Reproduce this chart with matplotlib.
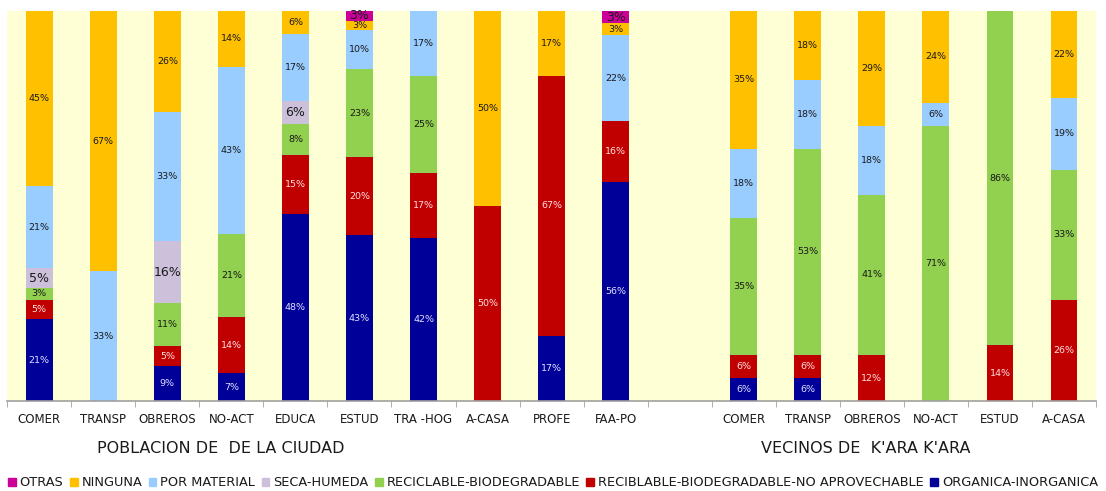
import matplotlib.pyplot as plt
from matplotlib.patches import Patch
from matplotlib.transforms import blended_transform_factory

# categories (slot 10 left empty between the two groups)
cats_city = ['COMER', 'TRANSP', 'OBREROS', 'NO-ACT', 'EDUCA', 'ESTUD', 'TRA -HOG', 'A-CASA', 'PROFE', 'FAA-PO']
cats_kara = ['COMER', 'TRANSP', 'OBREROS', 'NO-ACT', 'ESTUD', 'A-CASA']
labels = cats_city + [''] + cats_kara

# series values (%), bottom to top
organica = [21, 0, 9, 7.14, 48, 42.5, 41.67, 0, 16.67, 56.25, 0, 5.88, 5.88, 0, 0, 0, 0]
no_aprov = [5, 0, 5, 14.29, 15, 20, 16.67, 50, 66.67, 15.63, 0, 5.88, 5.88, 11.76, 0, 14.29, 25.93]
reciclable = [3, 0, 11, 21.43, 8, 22.5, 25, 0, 0, 0, 0, 35.29, 52.94, 41.18, 70.59, 85.71, 33.33]
seca = [5, 0, 16, 0, 6, 0, 0, 0, 0, 0, 0, 0, 0, 0, 0, 0, 0]
por_material = [21, 33.33, 33, 42.86, 17, 10, 16.67, 0, 0, 21.87, 0, 17.65, 17.65, 17.65, 5.88, 0, 18.52]
ninguna = [45, 66.67, 26, 14.29, 6, 2.5, 0, 50, 16.67, 3.12, 0, 35.29, 17.65, 29.41, 23.53, 0, 22.22]
otras = [0, 0, 0, 0, 0, 2.5, 0, 0, 0, 3.13, 0, 0, 0, 0, 0, 0, 0]

series = [
    ('ORGANICA-INORGANICA', organica, '#000099', '#E0E0FF', 6.8),
    ('RECIBLABLE-BIODEGRADABLE-NO APROVECHABLE', no_aprov, '#C00000', '#FFE0E0', 6.8),
    ('RECICLABLE-BIODEGRADABLE', reciclable, '#92D050', '#1A1A1A', 6.8),
    ('SECA-HUMEDA', seca, '#CCC0DA', '#1A1A1A', 9),
    ('POR MATERIAL', por_material, '#99CCFF', '#1A1A1A', 6.8),
    ('NINGUNA', ninguna, '#FFC000', '#1A1A1A', 6.8),
    ('OTRAS', otras, '#CC0099', '#1A1A1A', 9),
]

fig = plt.figure(figsize=(11.06, 4.91), dpi=100)
ax = fig.add_axes([0.0065, 0.1833, 0.9845, 0.7943])
ax.set_facecolor('#FFFFD5')

x = [i + 0.5 for i in range(len(labels))]
bottom = [0] * len(labels)
for name, vals, col, tcol, fs in series:
    ax.bar(x, vals, width=0.42, bottom=bottom, color=col, linewidth=0)
    for i, v in enumerate(vals):
        if v > 0:
            ax.text(x[i], bottom[i] + v / 2, f"{int(v + 0.5)}%", ha='center', va='center',
                    fontsize=fs, color=tcol)
    bottom = [b + v for b, v in zip(bottom, vals)]

ax.set_xlim(0, len(labels))
ax.set_ylim(0, 100)
ax.set_yticks([])
ax.set_xticks(x)
ax.set_xticklabels(labels, fontsize=8.5, color='#1A1A1A')
ax.tick_params(axis='x', which='major', length=0, pad=9)
ax.set_xticks(range(len(labels) + 1), minor=True)
ax.tick_params(axis='x', which='minor', length=4, color='#A0A0A0')
for s in ['left', 'right', 'top']:
    ax.spines[s].set_visible(False)
ax.spines['bottom'].set_color('#A0A0A0')
ax.spines['bottom'].set_linewidth(1.2)

tr = blended_transform_factory(ax.transData, ax.transAxes)
ax.text(3.33, -0.123, 'POBLACION DE  DE LA CIUDAD', transform=tr, ha='center', va='center',
        fontsize=11.5, color='#1A1A1A')
ax.text(13.4, -0.123, "VECINOS DE  K'ARA K'ARA", transform=tr, ha='center', va='center',
        fontsize=11.5, color='#1A1A1A')

handles = [Patch(color=col, label=name) for name, vals, col, tcol, fs in reversed(series)]
fig.legend(handles=handles, loc='lower center', bbox_to_anchor=(0.5, -0.02), ncol=7,
           frameon=False, fontsize=9.3, handlelength=0.6, handleheight=0.6,
           handletextpad=0.3, columnspacing=0.5, labelcolor='#1A1A1A')

fig.savefig('out.png', dpi=100)
